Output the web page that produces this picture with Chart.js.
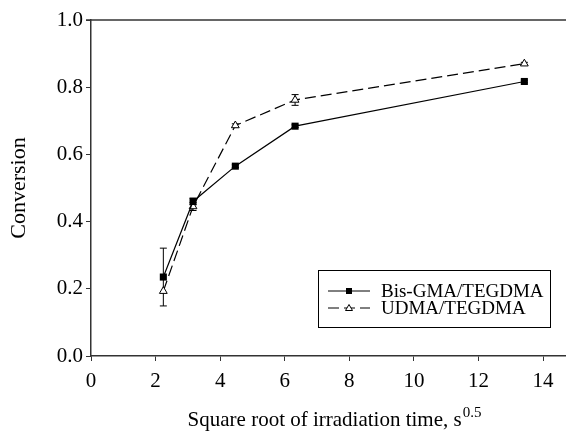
<!DOCTYPE html>
<html lang="en">
<head>
<meta charset="UTF-8">
<title>Conversion chart</title>
<script src="https://cdn.jsdelivr.net/npm/chart.js"></script>
<style>
  html, body { margin: 0; padding: 0; background: #ffffff; }
</style>
</head>
<body>
<canvas id="conv-chart" width="566" height="431"></canvas>
<script>
// data
const xValues = [2.24, 3.16, 4.47, 6.32, 13.42];
const bisGma = [0.235, 0.460, 0.565, 0.684, 0.817];
const bisGmaErr = [0.086, 0.010, 0.004, 0.004, 0.004];
const udma = [0.193, 0.445, 0.686, 0.762, 0.870];
const udmaErr = [0, 0.012, 0.005, 0.016, 0.004];
const xTicks = [0, 2, 4, 6, 8, 10, 12, 14];
const yTicks = [0, 0.2, 0.4, 0.6, 0.8, 1.0];
const seriesNames = ['Bis-GMA/TEGDMA', 'UDMA/TEGDMA'];
const xTitle = 'Square root of irradiation time, s';
const xTitleSup = '0.5';
const yTitle = 'Conversion';

const SERIF = '"Liberation Serif", "Times New Roman", serif';
const AXIS = '#333333';

const toPoints = (ys) => ys.map((y, i) => ({ x: xValues[i], y: y }));

// top frame line of the plot
const topLine = {
  id: 'topLine',
  afterDraw(chart) {
    const { ctx, chartArea } = chart;
    ctx.save();
    ctx.strokeStyle = AXIS;
    ctx.lineWidth = 1.5;
    ctx.beginPath();
    ctx.moveTo(chartArea.left - 5, chartArea.top);
    ctx.lineTo(chartArea.right, chartArea.top);
    ctx.stroke();
    ctx.restore();
  }
};

// vertical error bars, drawn under the markers
const errorBars = {
  id: 'errorBars',
  beforeDatasetsDraw(chart) {
    const { ctx, scales } = chart;
    const errs = [bisGmaErr, udmaErr];
    ctx.save();
    ctx.strokeStyle = '#000';
    ctx.lineWidth = 1;
    chart.data.datasets.forEach((ds, di) => {
      ds.data.forEach((p, i) => {
        const e = errs[di][i];
        if (!e) return;
        const x = scales.x.getPixelForValue(p.x);
        const y1 = scales.y.getPixelForValue(p.y + e);
        const y2 = scales.y.getPixelForValue(p.y - e);
        ctx.beginPath();
        ctx.moveTo(x, y1); ctx.lineTo(x, y2);
        ctx.moveTo(x - 3.5, y1); ctx.lineTo(x + 3.5, y1);
        ctx.moveTo(x - 3.5, y2); ctx.lineTo(x + 3.5, y2);
        ctx.stroke();
      });
    });
    ctx.restore();
  }
};

// x title with superscript
const xTitlePlugin = {
  id: 'xTitlePlugin',
  afterDraw(chart) {
    const { ctx, chartArea } = chart;
    ctx.save();
    ctx.fillStyle = '#000';
    ctx.textBaseline = 'alphabetic';
    ctx.font = '21px ' + SERIF;
    const w1 = ctx.measureText(xTitle).width;
    ctx.font = '15px ' + SERIF;
    const w2 = ctx.measureText(xTitleSup).width;
    const cx = chartArea.left + 243;
    const x0 = cx - (w1 + w2) / 2;
    const base = 426;
    ctx.font = '21px ' + SERIF;
    ctx.fillText(xTitle, x0, base);
    ctx.font = '15px ' + SERIF;
    ctx.fillText(xTitleSup, x0 + w1 + 1, base - 9);
    ctx.restore();
  }
};

// boxed legend with line samples
const boxLegend = {
  id: 'boxLegend',
  afterDraw(chart) {
    const { ctx, chartArea } = chart;
    const right = chartArea.left + 459;
    const bottom = chartArea.bottom - 29;
    const left = right - 232;
    const top = bottom - 57;
    ctx.save();
    ctx.strokeStyle = '#000';
    ctx.lineWidth = 1;
    ctx.strokeRect(left + 0.5, top + 0.5, right - left, bottom - top);

    const rows = [top + 21, top + 38];
    chart.data.datasets.forEach((ds, i) => {
      const y = rows[i];
      ctx.beginPath();
      ctx.setLineDash(ds.borderDash || []);
      ctx.lineWidth = 1;
      ctx.moveTo(left + 10, y);
      ctx.lineTo(left + 52, y);
      ctx.stroke();
      ctx.setLineDash([]);
      const mx = left + 31;
      if (ds.pointStyle === 'rect') {
        ctx.fillStyle = '#000';
        ctx.fillRect(mx - 3, y - 3, 6, 6);
      } else {
        ctx.fillStyle = '#fff';
        ctx.beginPath();
        ctx.moveTo(mx, y - 3.5);
        ctx.lineTo(mx + 3.5, y + 2.5);
        ctx.lineTo(mx - 3.5, y + 2.5);
        ctx.closePath();
        ctx.fill();
        ctx.stroke();
      }
      ctx.fillStyle = '#000';
      ctx.font = '19px ' + SERIF;
      ctx.textBaseline = 'middle';
      ctx.fillText(seriesNames[i], left + 63, y + 1);
    });
    ctx.restore();
  }
};

const ctx = document.getElementById('conv-chart').getContext('2d');
new Chart(ctx, {
  type: 'line',
  data: {
    datasets: [
      {
        label: seriesNames[0],
        data: toPoints(bisGma),
        borderColor: '#000',
        borderWidth: 1.2,
        pointStyle: 'rect',
        pointRadius: 5,
        pointBackgroundColor: '#000',
        pointBorderColor: '#000',
        pointBorderWidth: 0,
        tension: 0
      },
      {
        label: seriesNames[1],
        data: toPoints(udma),
        borderColor: '#000',
        borderWidth: 1.2,
        borderDash: [11, 5],
        pointStyle: 'triangle',
        pointRadius: 4.5,
        pointBackgroundColor: '#fff',
        pointBorderColor: '#000',
        pointBorderWidth: 1,
        tension: 0
      }
    ]
  },
  options: {
    responsive: false,
    animation: false,
    clip: false,
    layout: { autoPadding: false, padding: { top: 20, right: 0, bottom: 0, left: 0 } },
    plugins: {
      legend: { display: false },
      tooltip: { enabled: false }
    },
    scales: {
      x: {
        type: 'linear',
        min: 0,
        max: 14.71,
        afterBuildTicks: (scale) => { scale.ticks = xTicks.map(v => ({ value: v })); },
        afterFit: (scale) => {
          scale.height = 75;
          scale.paddingLeft = 0;
          scale.paddingRight = 0;
        },
        border: { color: AXIS, width: 1.5 },
        grid: { drawOnChartArea: false, drawTicks: true, tickLength: 5, color: AXIS },
        ticks: {
          color: '#000',
          padding: 8,
          maxRotation: 0,
          font: { family: SERIF, size: 21 },
          callback: (v) => String(v)
        },
        title: { display: false }
      },
      y: {
        min: 0,
        max: 1,
        afterBuildTicks: (scale) => { scale.ticks = yTicks.map(v => ({ value: v })); },
        afterFit: (scale) => { scale.width = 91; },
        border: { color: AXIS, width: 1.5 },
        grid: { drawOnChartArea: false, drawTicks: true, tickLength: 5, color: AXIS },
        ticks: {
          color: '#000',
          padding: 3,
          font: { family: SERIF, size: 21 },
          callback: (v) => Number(v).toFixed(1)
        },
        title: {
          display: true,
          text: yTitle,
          color: '#000',
          font: { family: SERIF, size: 22 },
          padding: { top: 6, bottom: 0 }
        }
      }
    }
  },
  plugins: [topLine, errorBars, xTitlePlugin, boxLegend]
});
</script>
</body>
</html>
